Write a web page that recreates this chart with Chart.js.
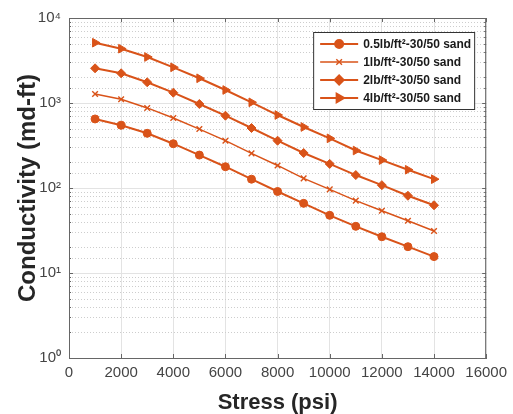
<!DOCTYPE html>
<html>
<head>
<meta charset="utf-8">
<title>Conductivity vs Stress</title>
<script src="https://cdn.jsdelivr.net/npm/chart.js@4/dist/chart.umd.min.js"></script>
<style>
  html, body { margin: 0; padding: 0; background: #fff; }
  #wrap { width: 513px; height: 414px; }
</style>
</head>
<body>
<div id="wrap"><canvas id="condChart" width="513" height="414"></canvas></div>
<script>
// data
const stress = [1000, 2000, 3000, 4000, 5000, 6000, 7000, 8000, 9000, 10000, 11000, 12000, 13000, 14000];
const cond05 = [649, 547, 440, 332, 244, 178, 127, 91, 66, 47.7, 35.4, 26.7, 20.4, 15.6];
const cond1 = [1276, 1106, 874, 666, 494, 360, 255, 184, 130, 96.5, 71, 54, 41.2, 31.2];
const cond2 = [2560, 2236, 1753, 1322, 973, 709, 508, 360, 258, 192, 142, 108, 81, 62.6];
const cond4 = [5120, 4352, 3477, 2630, 1953, 1422, 1019, 722, 522, 384, 276, 213, 164, 127];
const seriesLabels = ['0.5lb/ft²-30/50 sand', '1lb/ft²-30/50 sand', '2lb/ft²-30/50 sand', '4lb/ft²-30/50 sand'];
const yTickLabels = { 1: '10⁰', 10: '10¹', 100: '10²', 1000: '10³', 10000: '10⁴' };

const orange = '#D95319';
const fontFamily = "'Liberation Sans', Arial, Helvetica, sans-serif";

function toPoints(values) {
  return stress.map((s, i) => ({ x: s, y: values[i] }));
}

function isMajor(v) {
  const l = Math.log10(v);
  return Math.abs(l - Math.round(l)) < 1e-9;
}

// dotted minor grid, box and inward ticks, legend inside the axes
const matlabLook = {
  id: 'matlabLook',
  beforeDatasetsDraw(chart) {
    const { ctx, chartArea: a } = chart;
    const y = chart.scales.y;
    ctx.save();
    ctx.strokeStyle = '#cdcdcd';
    ctx.lineWidth = 1;
    ctx.setLineDash([1, 2]);
    y.ticks.forEach(t => {
      if (isMajor(t.value)) return;
      const py = Math.round(y.getPixelForValue(t.value)) + 0.5;
      ctx.beginPath();
      ctx.moveTo(a.left, py);
      ctx.lineTo(a.right, py);
      ctx.stroke();
    });
    ctx.restore();
  },
  afterDatasetsDraw(chart) {
    const { ctx, chartArea: a } = chart;
    const x = chart.scales.x;
    const y = chart.scales.y;
    ctx.save();
    ctx.strokeStyle = '#666';
    ctx.lineWidth = 1;
    ctx.beginPath();
    ctx.moveTo(a.left, a.top + 0.5);
    ctx.lineTo(a.right, a.top + 0.5);
    ctx.moveTo(a.right - 0.5, a.top);
    ctx.lineTo(a.right - 0.5, a.bottom);
    x.ticks.forEach(t => {
      const px = Math.round(x.getPixelForValue(t.value)) + 0.5;
      ctx.moveTo(px, a.bottom);
      ctx.lineTo(px, a.bottom - 4);
      ctx.moveTo(px, a.top);
      ctx.lineTo(px, a.top + 4);
    });
    y.ticks.forEach(t => {
      const len = isMajor(t.value) ? 4 : 2;
      const py = Math.round(y.getPixelForValue(t.value)) + 0.5;
      ctx.moveTo(a.left, py);
      ctx.lineTo(a.left + len, py);
      ctx.moveTo(a.right, py);
      ctx.lineTo(a.right - len, py);
    });
    ctx.stroke();

    // legend box
    const boxW = 161, boxH = 77;
    const bx = a.right - 12 - boxW;
    const by = a.top + 14;
    ctx.fillStyle = '#fff';
    ctx.fillRect(bx, by, boxW, boxH);
    ctx.strokeStyle = '#333';
    ctx.strokeRect(bx + 0.5, by + 0.5, boxW, boxH);
    ctx.font = 'bold 12px ' + fontFamily;
    ctx.textBaseline = 'middle';
    ctx.textAlign = 'left';
    chart.data.datasets.forEach((ds, i) => {
      const ry = by + 12 + i * 18;
      ctx.strokeStyle = ds.borderColor;
      ctx.lineWidth = ds.borderWidth;
      ctx.beginPath();
      ctx.moveTo(bx + 7, ry);
      ctx.lineTo(bx + 45, ry);
      ctx.stroke();
      ctx.fillStyle = ds.pointBackgroundColor;
      ctx.strokeStyle = ds.pointBorderColor;
      Chart.helpers.drawPoint(ctx, {
        pointStyle: ds.pointStyle,
        rotation: ds.pointRotation || 0,
        radius: ds.pointRadius,
        borderWidth: ds.pointBorderWidth
      }, bx + 26, ry);
      ctx.fillStyle = '#1a1a1a';
      ctx.fillText(ds.label, bx + 50, ry + 1);
    });
    ctx.restore();
  }
};

function makeSet(label, values, style, radius, lw, rotation) {
  return {
    label: label,
    data: toPoints(values),
    borderColor: orange,
    backgroundColor: orange,
    pointBackgroundColor: orange,
    pointBorderColor: orange,
    borderWidth: lw,
    pointStyle: style,
    pointRadius: radius,
    pointBorderWidth: style === 'crossRot' ? 1.4 : 1,
    pointRotation: rotation || 0,
    tension: 0
  };
}

const ctx = document.getElementById('condChart').getContext('2d');
new Chart(ctx, {
  type: 'line',
  data: {
    datasets: [
      makeSet(seriesLabels[0], cond05, 'circle', 4, 2),
      makeSet(seriesLabels[1], cond1, 'crossRot', 4, 1.4),
      makeSet(seriesLabels[2], cond2, 'rectRot', 4.5, 2),
      makeSet(seriesLabels[3], cond4, 'triangle', 5, 2, 90)
    ]
  },
  options: {
    responsive: false,
    animation: false,
    layout: { padding: { top: 18, right: 25, left: 0, bottom: 0 } },
    plugins: {
      legend: { display: false },
      tooltip: { enabled: false }
    },
    scales: {
      x: {
        type: 'linear',
        min: 0,
        max: 16000,
        ticks: {
          stepSize: 2000,
          maxRotation: 0,
          padding: 6,
          color: '#444',
          font: { family: fontFamily, size: 15 },
          callback: v => String(v)
        },
        grid: { color: '#e3e3e3', drawTicks: false },
        border: { color: '#666' },
        title: {
          display: true,
          text: 'Stress (psi)',
          color: '#262626',
          padding: { top: 0, bottom: 0 },
          font: { family: fontFamily, size: 22, weight: 'bold', lineHeight: 1 }
        },
        afterFit: scale => { scale.height = 56; }
      },
      y: {
        type: 'logarithmic',
        min: 1,
        max: 10000,
        ticks: {
          autoSkip: false,
          padding: 8,
          color: '#444',
          font: { family: fontFamily, size: 15 },
          callback: v => yTickLabels[v] || ''
        },
        grid: {
          drawTicks: false,
          color: c => (c.tick && isMajor(c.tick.value)) ? '#e3e3e3' : 'rgba(0,0,0,0)'
        },
        border: { color: '#666' },
        title: {
          display: true,
          text: 'Conductivity (md-ft)',
          color: '#262626',
          padding: { top: 14, bottom: 0 },
          font: { family: fontFamily, size: 24, weight: 'bold', lineHeight: 1.2 }
        },
        afterFit: scale => { scale.width = 69; }
      }
    }
  },
  plugins: [matlabLook]
});
</script>
</body>
</html>
